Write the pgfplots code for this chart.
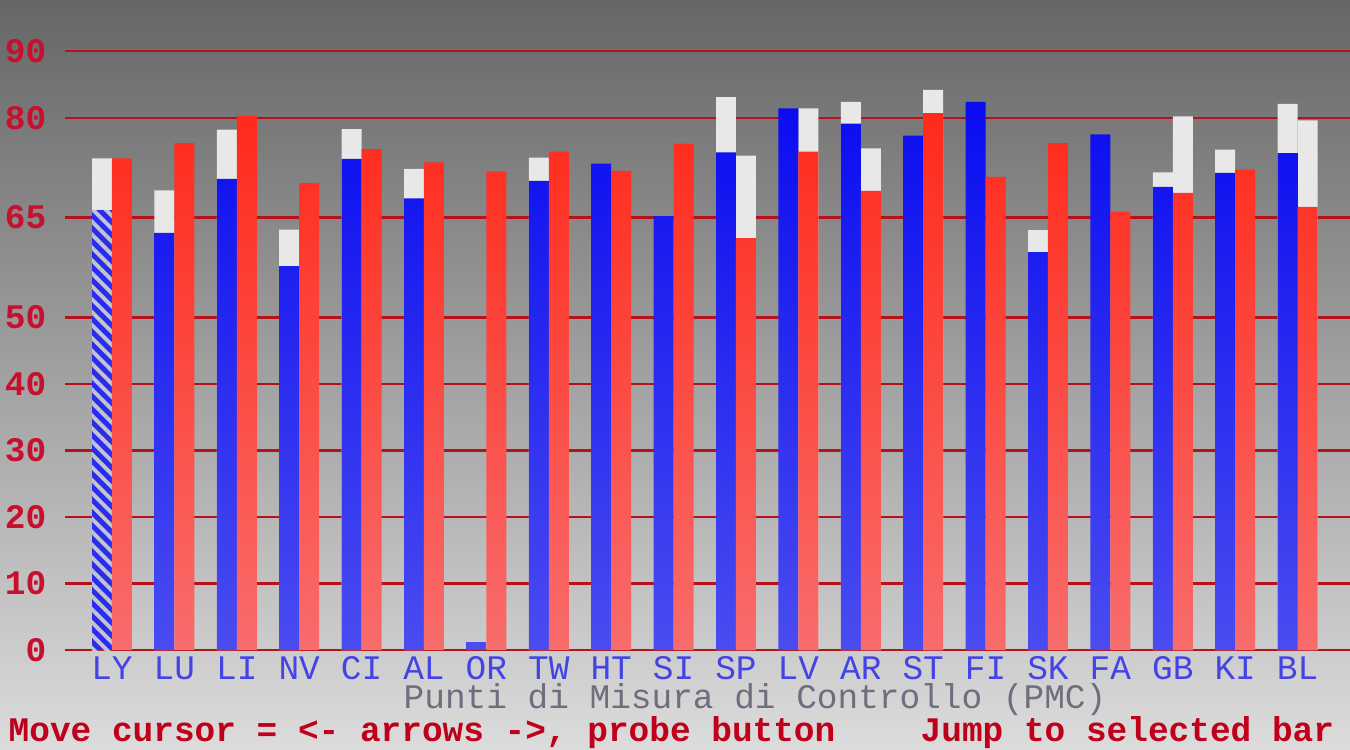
\documentclass[border=0pt]{standalone}
\usepackage{pgfplots}
\pgfplotsset{compat=1.18}
\usepackage{fontspec}
\setmainfont{Liberation Mono}
\setmonofont{Liberation Mono}
\usetikzlibrary{patterns.meta}
\definecolor{gridred}{HTML}{B5121B}
\definecolor{tickred}{HTML}{C8102E}
\definecolor{catblue}{HTML}{4444E6}
\definecolor{xlabgray}{HTML}{6E6E7E}
\definecolor{botred}{HTML}{C0001A}
\definecolor{bluetop}{HTML}{0A0CF0}
\definecolor{bluemid}{HTML}{2A2CF0}
\definecolor{bluebot}{HTML}{4A4CF0}
\definecolor{redtop}{HTML}{FF2A1A}
\definecolor{redbot}{HTML}{F86C6C}
\definecolor{capwhite}{HTML}{E8E8E8}
\definecolor{stripe}{HTML}{C4C4CC}
\definecolor{bgtop}{HTML}{666666}
\definecolor{bgmid}{HTML}{C4C4C4}
\definecolor{bgbot}{HTML}{DCDCDC}
\begin{document}
\begin{tikzpicture}
\useasboundingbox (0,0) rectangle (135mm,75mm);
\shade[top color=bgtop, middle color=bgmid, bottom color=bgbot] (0,0) rectangle (135mm,75mm);
\begin{axis}[
  at={(6.5mm,10mm)}, anchor=south west,
  scale only axis, width=128.5mm, height=65mm,
  xmin=-0.753, xmax=19.84, ymin=0, ymax=97.7,
  axis line style={draw=none},
  major tick length=0pt,
  xtick={0,...,19},
  xticklabels={LY,LU,LI,NV,CI,AL,OR,TW,HT,SI,SP,LV,AR,ST,FI,SK,FA,GB,KI,BL},
  xticklabel style={font=\fontsize{9.8}{11}\selectfont, text=catblue, anchor=center, yshift=-1.8mm, inner sep=0pt},
  ytick={0,10,20,30,40,50,65,80,90},
  /pgf/number format/assume math mode=true,
  yticklabel style={font=\fontsize{9.8}{11}\selectfont\bfseries, text=tickred, anchor=east, xshift=-1.8mm, inner sep=0pt},
  ymajorgrids, major grid style={gridred, line width=0.7pt},
  xlabel={Punti di Misura di Controllo (PMC)},
  xlabel style={font=\fontsize{9.8}{11}\selectfont, text=xlabgray, at={(axis description cs:0.537,-0.0769)}, anchor=center, inner sep=0pt},
]
% white caps (blue bars)
\addplot[ybar, draw=none, fill=capwhite, bar width=0.32, bar shift=-0.16] coordinates {
(0,73.9) (1,69.1) (2,78.2) (3,63.2) (4,78.3) (5,72.3) (7,74.0) (10,83.1) (12,82.4) (15,63.1) (17,71.8) (18,75.2) (19,82.1)};
% white caps (red bars)
\addplot[ybar, draw=none, fill=capwhite, bar width=0.32, bar shift=0.16] coordinates {
(10,74.3) (11,81.4) (12,75.4) (13,84.2) (17,80.2) (19,79.6)};
% blue bars
\addplot[ybar, draw=none, top color=bluetop, bottom color=bluebot, bar width=0.32, bar shift=-0.16] coordinates {
(1,62.7) (2,70.8) (3,57.7) (4,73.8) (5,67.9) (7,70.5) (8,73.1) (9,65.2)
(10,74.8) (11,81.4) (12,79.1) (13,77.3) (14,82.4) (15,59.8) (16,77.5) (17,69.6) (18,71.7) (19,74.7)};
\addplot[ybar, draw=none, fill=bluebot, bar width=0.32, bar shift=-0.16] coordinates {(6,1.2)};
% selected (hatched) blue bar
\addplot[ybar, draw=none, fill=bluemid, bar width=0.32, bar shift=-0.16,
  postaction={pattern={Lines[angle=-45,distance=2.6pt,line width=1.1pt]}, pattern color=stripe}] coordinates {(0,66.1)};
% red bars
\addplot[ybar, draw=none, top color=redtop, bottom color=redbot, bar width=0.32, bar shift=0.16] coordinates {
(0,73.9) (1,76.2) (2,80.3) (3,70.2) (4,75.3) (5,73.3) (6,71.9) (7,74.9) (8,72.0) (9,76.1)
(10,61.9) (11,74.9) (12,69.0) (13,80.7) (14,71.1) (15,76.2) (16,65.9) (17,68.7) (18,72.2) (19,66.6)};
\end{axis}
\node[anchor=west, inner sep=0pt, text=botred, font=\fontsize{9.8}{11}\selectfont\bfseries] at (0.8mm,1.7mm) {Move cursor = <- arrows ->, probe button};
\node[anchor=west, inner sep=0pt, text=botred, font=\fontsize{9.8}{11}\selectfont\bfseries] at (92mm,1.7mm) {Jump to selected bar};
\end{tikzpicture}
\end{document}
